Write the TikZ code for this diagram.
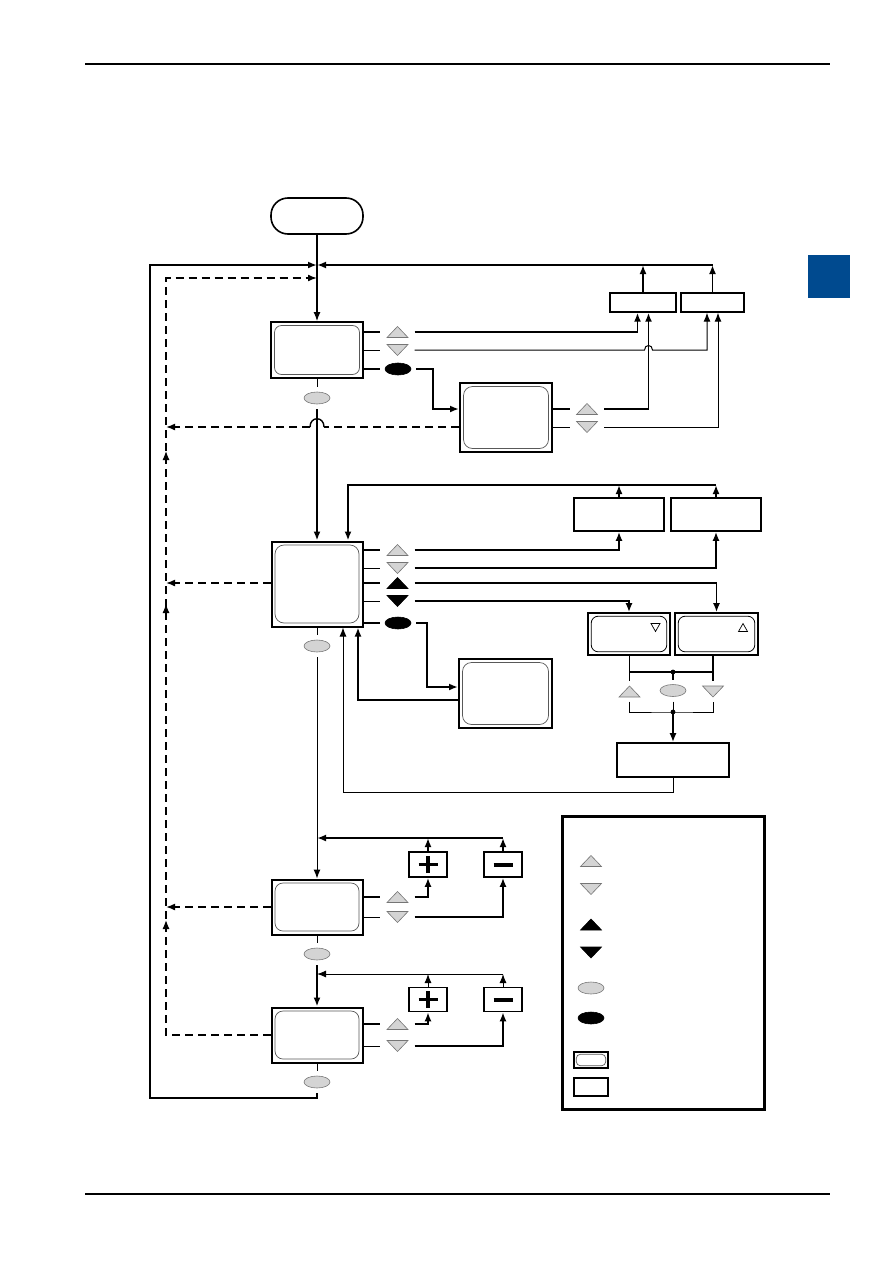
\documentclass[tikz,border=0pt]{standalone}
\usetikzlibrary{arrows.meta,shapes.geometric}
\definecolor{keygray}{RGB}{212,212,212}
\definecolor{keyedge}{RGB}{120,120,120}
\definecolor{tabblue}{RGB}{0,74,143}
\tikzset{
 arr/.style={-{Latex[length=9pt,width=7pt]}},
 thk/.style={line width=1.8pt},
 thn/.style={line width=1pt},
 dsh/.style={line width=1.6pt, dash pattern=on 8pt off 5pt},
 keyslot/.style={rectangle, inner sep=0pt, minimum width=34pt, minimum height=12pt},
 keyel/.style={ellipse, draw=keyedge, line width=0.6pt, fill=keygray, minimum width=26pt, minimum height=12pt, inner sep=0pt, outer sep=5pt},
 keyelb/.style={keyel, draw=black, fill=black},
 dispouter/.style={rectangle, draw, line width=2pt, inner sep=0pt},
 pbox/.style={rectangle, draw, line width=1.6pt, inner sep=0pt},
}
\newcommand\Tri[6][]{%
 \node[keyslot,#1] (#2) at (#3,#4) {};
 \filldraw[fill=#6, draw=#6!55!black, line width=0.6pt] ({#3-10.5},{#4+5.5*(#5)}) -- ({#3+10.5},{#4+5.5*(#5)}) -- ({#3},{#4-5.5*(#5)}) -- cycle;
}
\newcommand\Disp[6]{%
 \node[dispouter, minimum width=#4pt, minimum height=#5pt] (#1) at (#2,#3) {};
 \draw[line width=0.7pt, draw=black!65, rounded corners=#6pt] ([shift={(4.5pt,4.5pt)}]#1.south west) rectangle ([shift={(-4.5pt,-4.5pt)}]#1.north east);
}
\begin{document}
\begin{tikzpicture}[x=1pt,y=-1pt]
\fill[white] (0,0) rectangle (893,1263);
\useasboundingbox (0,0) rectangle (893,1263);
% page decorations
\draw[line width=1.2pt] (85,64) -- (830,64);
\draw[line width=1.2pt] (85,1194) -- (830,1194);
\fill[tabblue] (808,255) rectangle (850,298);

% start
\node[draw, line width=1.6pt, rounded corners=17pt, minimum width=92pt, minimum height=36pt, inner sep=0pt] (start) at (317,216) {};

% display boxes
\Disp{b1}{317}{350}{92}{56}{7}
\Disp{b3}{506}{417.5}{92}{69}{9}
\Disp{b2}{317}{584}{91}{85}{9}
\Disp{b4}{505.5}{693.5}{93}{69}{9}
\Disp{b5}{317}{907}{91}{55}{8}
\Disp{b6}{317}{1035}{91}{55}{8}

% plain boxes
\node[pbox, line width=1.4pt, minimum width=66pt, minimum height=19pt] (TR1) at (643,302.5) {};
\node[pbox, line width=1.4pt, minimum width=63pt, minimum height=19pt] (TR2) at (712.5,302.5) {};
\node[pbox, minimum width=90pt, minimum height=33pt] (MR1) at (619,514.5) {};
\node[pbox, minimum width=90pt, minimum height=33pt] (MR2) at (716,514.5) {};
\node[pbox, minimum width=112pt, minimum height=34pt] (BOT) at (673,760) {};
\node[pbox, minimum width=82pt, minimum height=42pt] (LR1) at (629,634) {};
\node[pbox, minimum width=83pt, minimum height=42pt] (LR2) at (716.5,634) {};
\draw[line width=0.8pt, rounded corners=7pt] ([shift={(4pt,4pt)}]LR1.south west) rectangle ([shift={(-4pt,-4pt)}]LR1.north east);
\draw[line width=0.8pt, rounded corners=7pt] ([shift={(4pt,4pt)}]LR2.south west) rectangle ([shift={(-4pt,-4pt)}]LR2.north east);
\draw[line width=0.7pt] (651,623.5) -- (660,623.5) -- (655.5,631.5) -- cycle;
\draw[line width=0.7pt] (738.5,631.5) -- (747.5,631.5) -- (743,623.5) -- cycle;

% plus / minus
\node[pbox, minimum width=38pt, minimum height=25pt] (P1) at (428,864.5) {};
\node[pbox, minimum width=38pt, minimum height=25pt] (M1) at (503,864.5) {};
\node[pbox, minimum width=38pt, minimum height=24pt] (P2) at (428,999.5) {};
\node[pbox, minimum width=38pt, minimum height=24pt] (M2) at (503,999.5) {};
\foreach \n in {P1,P2}{
 \draw[line width=3.5pt] ([xshift=-9.5pt]\n.center) -- ([xshift=9.5pt]\n.center)
   ([yshift=-8.5pt]\n.center) -- ([yshift=8.5pt]\n.center);}
\foreach \n in {M1,M2}{
 \draw[line width=4pt] ([xshift=-9.5pt]\n.center) -- ([xshift=9.5pt]\n.center);}

% keys
\Tri{k1u}{397.5}{332}{1}{keygray}
\Tri{k1d}{397.5}{350}{-1}{keygray}
\node[keyelb] (k1e) at (398,369) {};
\node[keyel] (e1) at (317,398) {};
\Tri{k3u}{587}{409}{1}{keygray}
\Tri{k3d}{587}{427}{-1}{keygray}
\Tri{k2u}{397.5}{550}{1}{keygray}
\Tri{k2d}{397.5}{568}{-1}{keygray}
\Tri{k2bu}{397.5}{583}{1}{black}
\Tri{k2bd}{397.5}{601}{-1}{black}
\node[keyelb] (k2e) at (398,623) {};
\node[keyel] (e2) at (317,646) {};
\Tri[minimum height=20pt]{kLu}{629.5}{691.5}{1}{keygray}
\node[keyel] (kLe) at (673,690.5) {};
\Tri[minimum height=20pt]{kLd}{713}{691.5}{-1}{keygray}
\Tri{k5u}{397.5}{897}{1}{keygray}
\Tri{k5d}{397.5}{917}{-1}{keygray}
\node[keyel] (e5) at (317,954) {};
\Tri{k6u}{397.5}{1024}{1}{keygray}
\Tri{k6d}{397.5}{1046}{-1}{keygray}
\node[keyel] (e6) at (317,1082) {};

% legend
\node[draw, line width=3pt, minimum width=202pt, minimum height=293pt, inner sep=0pt] (leg) at (663,962.5) {};
\Tri{l1}{591}{861}{1}{keygray}
\Tri{l2}{591}{889}{-1}{keygray}
\Tri{l3}{591}{924.5}{1}{black}
\Tri{l4}{591}{952.5}{-1}{black}
\node[keyel] (l5) at (591,988) {};
\node[keyelb] (l6) at (591,1018) {};
\node[pbox, line width=1.4pt, minimum width=34pt, minimum height=16pt] (l7) at (591,1060) {};
\draw[line width=0.7pt, draw=black!65, rounded corners=4pt] ([shift={(3pt,3pt)}]l7.south west) rectangle ([shift={(-3pt,-3pt)}]l7.north east);
\node[pbox, line width=1.4pt, minimum width=34pt, minimum height=18pt] (l8) at (591,1087) {};

% coordinates
\coordinate (J) at (317,265);
\coordinate (LB) at (150,1098);
\coordinate (DT) at (166,278);
\coordinate (FB) at (348,485);
\coordinate (RB) at (343,792);
\coordinate (jt) at (673,672);
\coordinate (jb) at (673,712);
\coordinate (R5) at (317,838);
\coordinate (R6) at (317,974);
\coordinate (HR) at (324,427);
\coordinate (HL) at (310,427);

% start -> b1 and outer loop
\draw[arr, line width=1.1pt] (start.south) -- (b1.north);
\draw[arr, thk] (e6.south) |- (LB) |- (J);
\draw[arr, thk] (TR1.north) -- (TR1.north |- J);
\draw[arr, thk] (TR2.north) -- (TR2.north |- J);
\draw[arr, thk] (TR2.north |- J) -- (J);

% dashed loop
\draw[dsh, arr] (b6.west) -| (DT) -- (DT -| J);
\draw[dsh] (b3.west |- k3d) -- (HR);
\draw[line width=1.4pt] (HR) .. controls (324,416) and (310,416) .. (HL);
\draw[dsh, arr] (HL) -- (k3d -| DT);
\draw[dsh, arr] (b2.west |- k2bu) -- (k2bu -| DT);
\draw[dsh, arr] (b5.west) -- (b5.west -| DT);
\draw[arr, line width=1.2pt] (166,463) -- (166,451);
\draw[arr, line width=1.2pt] (166,616) -- (166,604);
\draw[arr, line width=1.2pt] (166,932) -- (166,920);

% b1 keys
\draw[thk] (b1.east |- k1u) -- (k1u.west);
\draw[thn] (b1.east |- k1d) -- (k1d.west);
\draw[thk] (b1.east |- k1e) -- (k1e.west);
\draw[arr, thk] (k1u.east) -| ([xshift=-5.5pt]TR1.south);
\draw[arr, thn] (k1d.east) -- (644.5,350) .. controls (644.5,344) and (652.5,344) .. (652.5,350) -| ([xshift=-5.5pt]TR2.south);
\draw[arr, thk] (k1e.east) -- ++(17,0) |- ([yshift=8.5pt]b3.west);

% b3 keys
\draw[thk] (b3.east |- k3u) -- (k3u.west);
\draw[thn] (b3.east |- k3d) -- (k3d.west);
\draw[arr, thk] (k3u.east) -| ([xshift=5.5pt]TR1.south);
\draw[arr, thn] (k3d.east) -| ([xshift=5.5pt]TR2.south);

% b1 -> b2
\draw[thn] (b1.south) -- (e1.north);
\draw[arr, thk] (e1.south) -- (b2.north);

% b2 feedback from top boxes
\draw[arr, thk] (MR1.north) -- (MR1.north |- FB);
\draw[arr, thk] (MR2.north) -- (MR2.north |- FB);
\draw[arr, thk] (MR2.north |- FB) -- (FB) -- (FB |- b2.north);

% b2 keys
\draw[thk] (b2.east |- k2u) -- (k2u.west);
\draw[thn] (b2.east |- k2d) -- (k2d.west);
\draw[thk] (b2.east |- k2bu) -- (k2bu.west);
\draw[thn] (b2.east |- k2bd) -- (k2bd.west);
\draw[thk] (b2.east |- k2e) -- (k2e.west);
\draw[arr, thk] (k2u.east) -| (MR1.south);
\draw[arr, thk] (k2d.east) -| (MR2.south);
\draw[arr, thk] (k2bu.east) -| (LR2.north);
\draw[arr, thk] (k2bd.east) -| (LR1.north);
\draw[arr, thk] (k2e.east) -- ++(11,0) |- ([yshift=6.5pt]b4.west);
\draw[arr, thk] ([yshift=-6.5pt]b4.west) -| ([xshift=41pt]b2.south);
\draw[arr, thn] (BOT.south) |- (RB) -- (RB |- b2.south);

% LR junction
\draw[thk] (kLu.north |- LR1.south) -- (kLu.north);
\draw[thk] (kLd.north |- LR2.south) -- (kLd.north);
\draw[thk] (jt -| kLu) -- (jt -| kLd);
\draw[thk] (jt) -- (kLe.north);
\draw[thn] (kLu.south) |- (jb) -| (kLd.south);
\draw[thn] (kLe.south) -- (jb);
\draw[arr, thk] (jb) -- (BOT.north);
\fill (jt) circle[radius=2.4pt];
\fill (jb) circle[radius=2.4pt];

% b2 -> b5
\draw[thn] (b2.south) -- (e2.north);
\draw[arr, thn] (e2.south) -- (b5.north);

% b5 keys
\draw[thk] (b5.east |- k5u) -- (k5u.west);
\draw[thn] (b5.east |- k5d) -- (k5d.west);
\draw[arr, thk] (k5u.east) -| (P1.south);
\draw[arr, thk] (k5d.east) -| (M1.south);
\draw[arr, thk] (P1.north) -- (P1.north |- R5);
\draw[arr, thk] (M1.north) -- (M1.north |- R5);
\draw[arr, thk] (M1.north |- R5) -- (R5);

% b5 -> b6
\draw[thn] (b5.south) -- (e5.north);
\draw[arr, thk] (e5.south) -- (b6.north);

% b6 keys
\draw[thk] (b6.east |- k6u) -- (k6u.west);
\draw[thn] (b6.east |- k6d) -- (k6d.west);
\draw[arr, thk] (k6u.east) -| (P2.south);
\draw[arr, thk] (k6d.east) -| (M2.south);
\draw[arr, thn] (P2.north) -- (P2.north |- R6);
\draw[arr, thn] (M2.north) -- (M2.north |- R6);
\draw[arr, thn] (M2.north |- R6) -- (R6);
\draw[thn] (b6.south) -- (e6.north);
\end{tikzpicture}
\end{document}
